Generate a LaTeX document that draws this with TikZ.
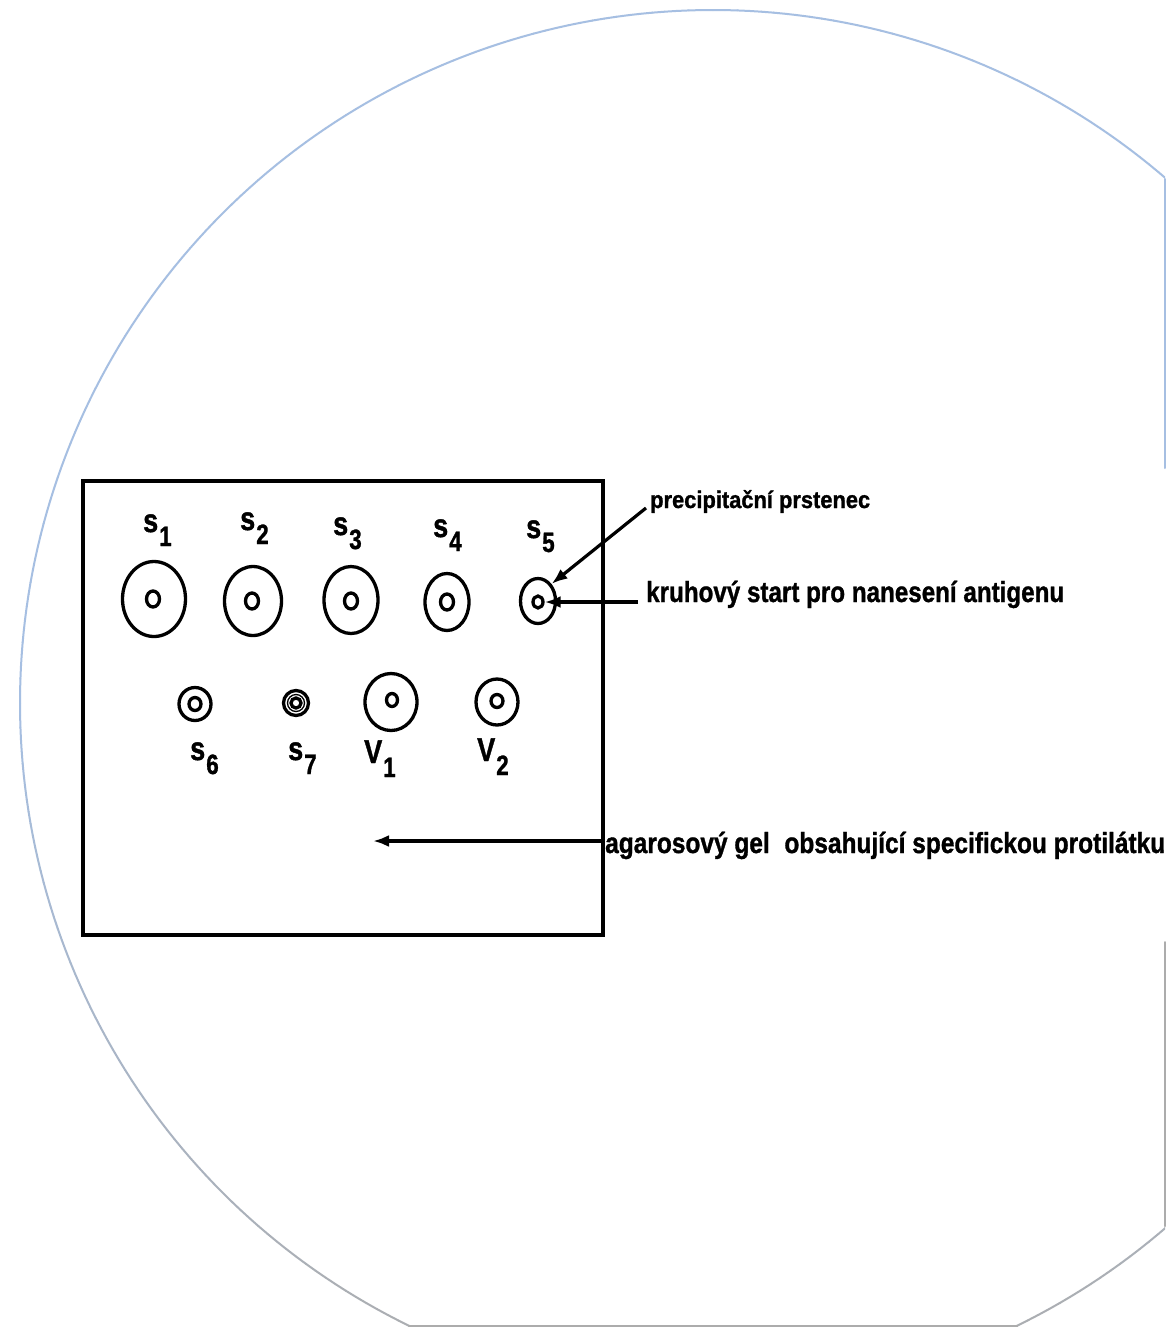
\documentclass[tikz,border=0pt]{standalone}
\usepackage{fontspec}
\setmainfont{Liberation Sans}
\newfontfamily\heavysans[FakeBold=1.2]{Liberation Sans}
\usetikzlibrary{arrows.meta,shapes.geometric,calc}

\definecolor{rimblue}{RGB}{166,191,226}
\definecolor{rimgray}{RGB}{172,172,172}

% well label: narrow letter with a lowered index of nearly the same size
\newcommand{\welltag}[2]{\scalebox{0.82}[1]{\fontsize{33pt}{33pt}\selectfont #1}\kern1pt\raisebox{-14pt}{\scalebox{0.8}[1]{\fontsize{28pt}{28pt}\selectfont #2}}}
% condensed bold caption of a given width
\newcommand{\squeeze}[2]{\resizebox{#1}{\height}{#2}}

\begin{document}
\begin{tikzpicture}[x=1pt,y=-1pt,
  rim/.style={line width=2pt, line cap=round},
  ring/.style 2 args={draw, ellipse, line width=3.3pt, inner sep=0pt,
    minimum width=#1pt, minimum height=#2pt},
  thinring/.style 2 args={draw, ellipse, line width=1.3pt, inner sep=0pt,
    minimum width=#1pt, minimum height=#2pt},
  tag/.style={font=\heavysans\bfseries, inner sep=0pt, anchor=base west},
  caption/.style={font=\heavysans\bfseries, inner sep=0pt, anchor=base west},
  arr/.style={line width=3.2pt, -{Latex[length=16pt,width=12pt]}}]

\fill[white] (0,0) rectangle (1168,1328);
\useasboundingbox (0,0) rectangle (1168,1328);

% petri dish outline, blue above fading to grey below
\begin{scope}
  \clip (0,0) rectangle (1165,1326);
  \foreach \a in {0,...,359}{
    \pgfmathsetmacro\mixv{max(0,min(100,100*(1-sin(\a+0.5))))}
    \draw[rim, color=rimblue!\mixv!rimgray]
      ($(713,703)+(\a:693)$) -- ($(713,703)+(\a+1:693)$);
  }
\end{scope}
\draw[rim, rimblue] (1165,179) -- (1165,468);
\draw[rim, rimgray] (1165,942) -- (1165,1226);
\draw[rim, rimgray] (409,1326) -- (1017,1326);

% agarose gel plate
\node[draw, line width=3.5pt, minimum width=520pt, minimum height=454pt, inner sep=0pt] (gel) at (343,708) {};

% upper row of wells: precipitation ring and application well
\node[ring={63}{75}] (s1o) at (154,599) {};
\node[ring={13}{16}] (s1i) at (153,599) {};
\node[ring={57}{69}] (s2o) at (253,601) {};
\node[ring={13}{16}] (s2i) at (252,601) {};
\node[ring={54}{67}] (s3o) at (351,600) {};
\node[ring={13}{16}] (s3i) at (351,601) {};
\node[ring={44}{57}] (s4o) at (447,602) {};
\node[ring={13}{16}] (s4i) at (447,602) {};
\node[ring={35}{45}] (s5o) at (538,601) {};
\node[ring={10}{12}] (s5i) at (538,602) {};

% lower row of wells
\node[ring={32}{33}] (s6o) at (195,704) {};
\node[ring={12}{13}] (s6i) at (195,704) {};
\node[ring={25}{25}] (s7o) at (296,703) {};
\node[thinring={17}{17}] (s7m) at (296,703) {};
\node[ring={10}{10}] (s7i) at (296,703) {};
\node[ring={52}{57}] (v1o) at (391,702) {};
\node[ring={11}{13}] (v1i) at (392,700) {};
\node[ring={42}{46}] (v2o) at (497,702) {};
\node[ring={12}{13}] (v2i) at (497,701) {};

% well labels
\node[tag] (l1) at (143,532) {\welltag{s}{1}};
\node[tag] (l2) at (240,530) {\welltag{s}{2}};
\node[tag] (l3) at (333,535) {\welltag{s}{3}};
\node[tag] (l4) at (433,537) {\welltag{s}{4}};
\node[tag] (l5) at (526,538) {\welltag{s}{5}};
\node[tag] (l6) at (190,760) {\welltag{s}{6}};
\node[tag] (l7) at (288,760) {\welltag{s}{7}};
\node[tag] (l8) at (364,763) {\welltag{V}{1}};
\node[tag] (l9) at (477,761) {\welltag{V}{2}};

% captions
\node[caption] (prec) at (650,508)
  {\fontsize{24pt}{24pt}\selectfont\squeeze{220pt}{precipitační prstenec}};
\node[caption] (krh) at (646,602)
  {\fontsize{29pt}{29pt}\selectfont\squeeze{418pt}{kruhový start pro nanesení antigenu}};
\node[caption] (agar) at (605,853)
  {\fontsize{29pt}{29pt}\selectfont\squeeze{560pt}{agarosový gel\hspace{0.6em}obsahující specifickou protilátku}};

% pointers
\coordinate (gelpt) at (373,841);
\draw[arr] ([xshift=-4pt]prec.base west) -- (s5o.north east);
\draw[arr] ([xshift=-8pt]krh.west |- s5i.east) -- (s5i.east);
\draw[arr] (agar.west |- gelpt) -- (gelpt);

\end{tikzpicture}
\end{document}
